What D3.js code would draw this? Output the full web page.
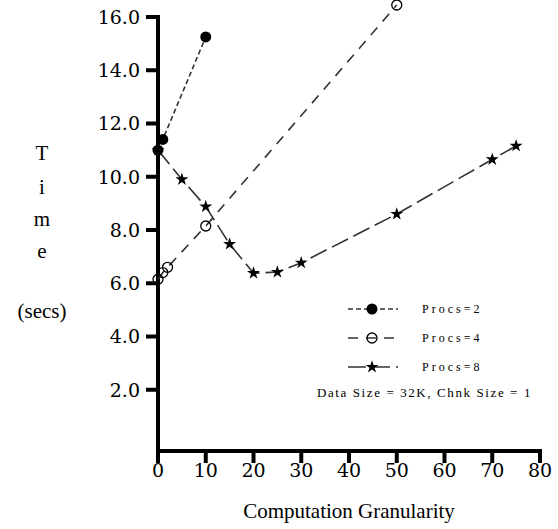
<!DOCTYPE html>
<html>
<head>
<meta charset="utf-8">
<script src="https://cdn.jsdelivr.net/npm/d3@7"></script>
<style>
  body { margin: 0; background: #fff; }
  svg { display: block; }
</style>
</head>
<body>
<svg id="chart" width="558" height="529"></svg>
<script>
// data
let procs2 = [[0, 11.0], [1, 11.4], [10, 15.25]];
let procs4 = [[0, 6.15], [1, 6.4], [2, 6.6], [10, 8.15], [50, 16.45]];
let procs8 = [[0, 11.0], [5, 9.9], [10, 8.88], [15, 7.47], [20, 6.38], [25, 6.42],
              [30, 6.77], [50, 8.6], [70, 10.65], [75, 11.16]];
let xTicks = [0, 10, 20, 30, 40, 50, 60, 70, 80];
let yTicks = [2, 4, 6, 8, 10, 12, 14, 16];
let legendLabels = ['Procs=2', 'Procs=4', 'Procs=8'];
let note = 'Data Size = 32K, Chnk Size = 1';

let svg = d3.select('#chart');

let x = d3.scaleLinear().domain([0, 80]).range([158, 540]);
let y = d3.scaleLinear().domain([-0.3, 16]).range([451, 17]);

let ink = '#000';
let lineInk = '#333';

// axes
let axes = svg.append('g');
axes.append('line')
  .attr('x1', x(0)).attr('x2', x(0))
  .attr('y1', y(16) - 2).attr('y2', y(-0.3) + 12)
  .style('stroke', ink).style('stroke-width', 4);
axes.append('line')
  .attr('x1', x(0)).attr('x2', x(80) + 2)
  .attr('y1', y(-0.3)).attr('y2', y(-0.3))
  .style('stroke', ink).style('stroke-width', 4);

axes.selectAll('.ytick')
  .data(yTicks)
  .join('line')
  .attr('class', 'ytick')
  .attr('x1', x(0) - 12).attr('x2', x(0))
  .attr('y1', d => y(d)).attr('y2', d => y(d))
  .style('stroke', ink).style('stroke-width', 4);

axes.selectAll('.ylab')
  .data(yTicks)
  .join('text')
  .attr('class', 'ylab')
  .attr('x', 140)
  .attr('y', d => y(d))
  .attr('dy', '0.36em')
  .attr('text-anchor', 'end')
  .style('font-family', 'DejaVu Serif')
  .style('font-size', '19px')
  .text(d => d.toFixed(1));

axes.selectAll('.xtick')
  .data(xTicks)
  .join('line')
  .attr('class', 'xtick')
  .attr('x1', d => x(d)).attr('x2', d => x(d))
  .attr('y1', y(-0.3)).attr('y2', y(-0.3) + 12)
  .style('stroke', ink).style('stroke-width', 4);

axes.selectAll('.xlab')
  .data(xTicks)
  .join('text')
  .attr('class', 'xlab')
  .attr('x', d => x(d))
  .attr('y', 470)
  .attr('dy', '0.36em')
  .attr('text-anchor', 'middle')
  .style('font-family', 'DejaVu Serif')
  .style('font-size', '19px')
  .text(d => d);

// axis titles
svg.append('text')
  .attr('x', 349).attr('y', 510)
  .attr('dy', '0.36em')
  .attr('text-anchor', 'middle')
  .style('font-family', 'Liberation Serif')
  .style('font-size', '21px')
  .text('Computation Granularity');

let yTitle = [['T', 152], ['i', 186], ['m', 218], ['e', 250], ['(secs)', 310]];
svg.selectAll('.ytitle')
  .data(yTitle)
  .join('text')
  .attr('class', 'ytitle')
  .attr('x', 42)
  .attr('y', d => d[1])
  .attr('dy', '0.36em')
  .attr('text-anchor', 'middle')
  .style('font-family', 'Liberation Serif')
  .style('font-size', '21px')
  .text(d => d[0]);

// series
let series = [
  {data: procs2, dash: '5,3', mark: 'dot'},
  {data: procs4, dash: '10,8', mark: 'ring'},
  {data: procs8, dash: '18,6', mark: 'star'}
];

let line = d3.line().x(d => x(d[0])).y(d => y(d[1]));
let star = d3.symbol().type(d3.symbolStar).size(52);

function drawMark(g, kind, px, py) {
  if (kind === 'dot') {
    g.append('circle').attr('cx', px).attr('cy', py).attr('r', 5.5)
      .style('fill', ink);
  } else if (kind === 'ring') {
    g.append('circle').attr('cx', px).attr('cy', py).attr('r', 5)
      .style('fill', 'none').style('stroke', ink).style('stroke-width', 1.3);
  } else {
    g.append('path').attr('d', star())
      .attr('transform', `translate(${px},${py})`)
      .style('fill', ink);
  }
}

let plot = svg.append('g');
series.forEach(s => {
  plot.append('path')
    .attr('d', line(s.data))
    .style('fill', 'none')
    .style('stroke', lineInk)
    .style('stroke-width', 1.6)
    .style('stroke-dasharray', s.dash);
  s.data.forEach(d => drawMark(plot, s.mark, x(d[0]), y(d[1])));
});

// legend
let legendY = [309, 338, 367];
let legend = svg.append('g');
series.forEach((s, i) => {
  legend.append('line')
    .attr('x1', 348).attr('x2', 398)
    .attr('y1', legendY[i]).attr('y2', legendY[i])
    .style('stroke', lineInk)
    .style('stroke-width', 1.6)
    .style('stroke-dasharray', s.dash);
  drawMark(legend, s.mark, 372, legendY[i]);
  legend.append('text')
    .attr('x', 422).attr('y', legendY[i])
    .attr('dy', '0.36em')
    .style('font-family', 'Liberation Serif')
    .style('font-size', '12px')
    .style('letter-spacing', '3px')
    .text(legendLabels[i]);
});

legend.append('text')
  .attr('x', 532).attr('y', 392)
  .attr('dy', '0.36em')
  .attr('text-anchor', 'end')
  .style('font-family', 'Liberation Serif')
  .style('font-size', '13px')
  .style('letter-spacing', '1.6px')
  .text(note);
</script>
</body>
</html>
